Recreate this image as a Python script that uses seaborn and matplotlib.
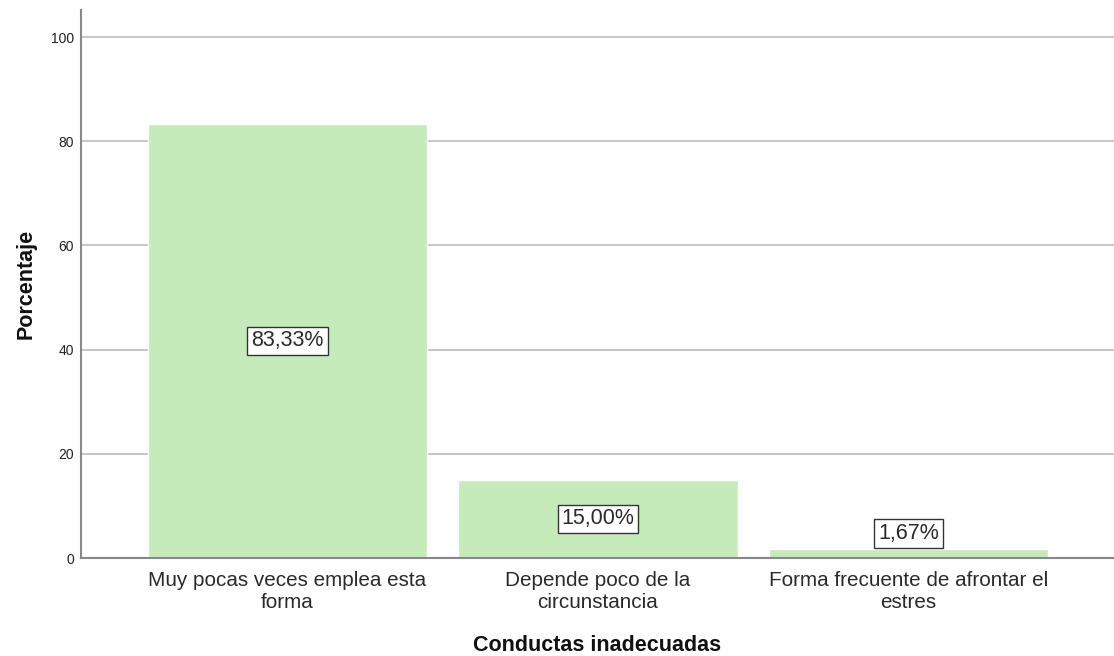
import matplotlib
matplotlib.use("Agg")
import matplotlib.pyplot as plt
import seaborn as sns
import pandas as pd

categorias = ["Muy pocas veces emplea esta\nforma",
              "Depende poco de la\ncircunstancia",
              "Forma frecuente de afrontar el\nestres"]
porcentajes = [83.33, 15.00, 1.67]
ticks_y = [0, 20, 40, 60, 80, 100]

sns.set_theme(style="white")
plt.rcParams["font.family"] = ["Liberation Sans", "DejaVu Sans"]

df = pd.DataFrame({"categoria": categorias, "porcentaje": porcentajes})

fig = plt.figure(figsize=(11.14, 6.56), dpi=100)
ax = fig.add_axes([81 / 1114, 98 / 656, 1 - 81 / 1114, (558 - 10) / 656])

ax.set_axisbelow(True)
for t in ticks_y:
    ax.axhline(t, color="#c8c8c8", lw=1.5, zorder=0)

sns.barplot(data=df, x="categoria", y="porcentaje", color="#c5ebbb",
            saturation=1, width=0.9, ax=ax, zorder=2)

ax.set_ylim(0, 105.2)
ax.set_xlim(-0.665, 2.662)
ax.set_yticks(ticks_y)
ax.set_yticklabels([str(t) for t in ticks_y], fontsize=10, color="#222222")
ax.tick_params(axis="y", length=0, pad=5)
ax.tick_params(axis="x", length=0, pad=9, labelsize=14.9, labelcolor="#2a2a2a")

for s in ["top", "right"]:
    ax.spines[s].set_visible(False)
for s in ["left", "bottom"]:
    ax.spines[s].set_color("#888888")
    ax.spines[s].set_linewidth(1.5)
    ax.spines[s].set_zorder(3)

for lbl in ax.get_xticklabels():
    lbl.set_multialignment("center")

box = dict(boxstyle="square,pad=0.18", facecolor="white", edgecolor="#333333", lw=1)
for i, v in enumerate(porcentajes):
    texto = f"{v:.2f}".replace(".", ",") + "%"
    y = v / 2 if v >= 10 else v + 3.1
    ax.text(i, y, texto, ha="center", va="center", fontsize=15.5,
            color="#2a2a2a", bbox=box, zorder=4)

ax.set_xlabel("Conductas inadecuadas", fontsize=15.5, fontweight="bold",
              labelpad=17, color="#111111")
ax.set_ylabel("Porcentaje", fontsize=15.5, fontweight="bold", labelpad=10,
              color="#111111")

fig.savefig("out.png", dpi=100)
